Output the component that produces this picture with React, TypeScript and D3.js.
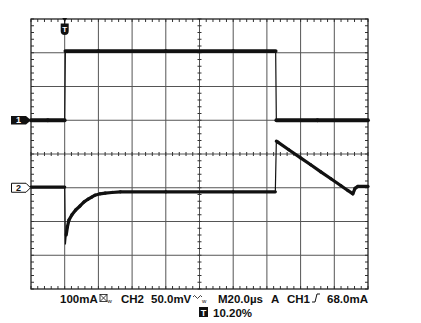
import React from "react";
import * as d3 from "d3";

// ---- data (time in µs, CH1 in mA, CH2 in mV) ----
const ch1Time = [-20, -10, 0, 0.4, 20, 60, 100, 125.2, 125.6, 150, 180];
const ch1Val = [0, 0, 0, 205, 205, 205, 205, 205, 0, 0, 0];

const ch2Time = [-20, 0, 0.4, 0.9, 1.6, 2.5, 4.3, 6.5, 9.1, 11.5, 13.8, 16, 18, 21, 24, 28, 33, 60, 100, 125.0, 125.6, 126.5, 133, 140, 146, 152, 158, 164, 168, 171, 172.3, 174, 180];
const ch2Val = [1, 1, -84, -70, -58, -48, -40, -33, -27, -21, -17, -14, -11, -9, -8, -7, -6, -6, -6, -6, 69, 67.5, 56.3, 44.3, 34, 23.6, 13.3, 3, -4, -9, -1, 2, 2];

const ch1Offset = 1; // divisions
const ch2Offset = -1;
const ch1Scale = 100; // mA/div
const ch2Scale = 50; // mV/div

const statusTexts = ["100mA", "CH2", "50.0mV", "M20.0µs", "A", "CH1", "68.0mA"];
const trigPercent = "10.20%";

const W = 421;
const H = 323;
const L = 31, R = 368, T = 19, B = 289;

type Seg = { x1: number; y1: number; x2: number; y2: number; fast: boolean };

export default function App() {
  const x = d3.scaleLinear().domain([-20, 180]).range([L, R]);
  const y = d3.scaleLinear().domain([-4, 4]).range([B, T]);

  const segs = (ts: number[], vs: number[], off: number, sc: number): Seg[] =>
    ts.slice(1).map((t, i) => ({
      x1: x(ts[i]),
      y1: y(off + vs[i] / sc),
      x2: x(t),
      y2: y(off + vs[i + 1] / sc),
      fast: t - ts[i] < 0.7,
    }));

  const s1 = segs(ch1Time, ch1Val, ch1Offset, ch1Scale);
  const s2 = segs(ch2Time, ch2Val, ch2Offset, ch2Scale);

  const line1 = d3
    .line<number>()
    .x((_, i) => x(ch1Time[i]))
    .y((v) => y(ch1Offset + v / ch1Scale));
  const line2 = d3
    .line<number>()
    .x((_, i) => x(ch2Time[i]))
    .y((v) => y(ch2Offset + v / ch2Scale));

  const vMajors = d3.range(-20, 181, 20);
  const hMajors = d3.range(-4, 5, 1);
  const minorsX = d3.range(-20, 180.01, 4);
  const minorsY = d3.range(-4, 4.001, 0.2);

  const gridColor = "#555";
  const tickColor = "#333";
  const font = "'Liberation Sans', Arial, sans-serif";

  const y1 = y(ch1Offset);
  const y2 = y(ch2Offset);
  const xt = x(0);

  const thick = (s: Seg[], w: number, key: string) =>
    s
      .filter((d) => !d.fast)
      .map((d, i) => (
        <line key={key + i} x1={d.x1} y1={d.y1} x2={d.x2} y2={d.y2} stroke="#111" strokeWidth={w} strokeLinecap="round" />
      ));

  return (
    <svg
      width={W}
      height={H}
      style={{ position: "absolute", left: 0, top: 0, background: "#fff" }}
    >
      <rect x={0} y={0} width={W} height={H} fill="#fff" />
      {/* grid */}
      {vMajors.slice(1, -1).map((t) => (
        <line key={"v" + t} x1={x(t)} x2={x(t)} y1={T} y2={B} stroke={gridColor} strokeWidth={1} />
      ))}
      {hMajors.slice(1, -1).map((d) => (
        <line key={"h" + d} x1={L} x2={R} y1={y(d)} y2={y(d)} stroke={gridColor} strokeWidth={1} />
      ))}
      {/* minor ticks on frame and centre lines */}
      {minorsX.map((t, i) => (
        <g key={"mx" + i} stroke={tickColor} strokeWidth={1}>
          <line x1={x(t)} x2={x(t)} y1={T} y2={T + 3} />
          <line x1={x(t)} x2={x(t)} y1={B} y2={B - 3} />
          <line x1={x(t)} x2={x(t)} y1={y(0) - 2} y2={y(0) + 2} />
        </g>
      ))}
      {minorsY.map((d, i) => (
        <g key={"my" + i} stroke={tickColor} strokeWidth={1}>
          <line x1={L} x2={L + 3} y1={y(d)} y2={y(d)} />
          <line x1={R} x2={R - 3} y1={y(d)} y2={y(d)} />
          <line x1={x(80) - 2} x2={x(80) + 2} y1={y(d)} y2={y(d)} />
        </g>
      ))}
      <rect x={L} y={T} width={R - L} height={B - T} fill="none" stroke="#222" strokeWidth={1.3} />

      {/* traces: thin path for fast edges, thick for the noisy settled parts */}
      <path d={line1(ch1Val) || ""} fill="none" stroke="#111" strokeWidth={1.2} />
      {thick(s1, 3.8, "a")}
      <path d={line2(ch2Val) || ""} fill="none" stroke="#111" strokeWidth={1.2} />
      {thick(s2, 3.2, "b")}

      {/* trigger marker on top */}
      <path d={`M${xt - 2.5},${T - 1} L${xt + 2.5},${T - 1} L${xt},${T + 2.5} Z`} fill="#111" />
      <line x1={xt} x2={xt} y1={T} y2={24} stroke="#111" strokeWidth={1} />
      <path d={`M${xt - 4},${23.5} h8 v7.5 a4,4 0 0 1 -8,0 Z`} fill="#111" />
      <text x={xt} y={32} textAnchor="middle" fill="#fff" fontFamily={font} fontWeight="bold" fontSize={8}>
        T
      </text>

      {/* channel markers */}
      <path d={`M11,${y1 - 4.3} H26 L31,${y1} L26,${y1 + 4.3} H11 Z`} fill="#111" />
      <text x={18.5} y={y1 + 3.2} textAnchor="middle" fill="#fff" fontFamily={font} fontWeight="bold" fontSize={9}>
        1
      </text>
      <path d={`M11.5,${y2 - 4.5} H26 L30.5,${y2} L26,${y2 + 4.5} H11.5 Z`} fill="#fff" stroke="#111" strokeWidth={1} />
      <text x={18.5} y={y2 + 3.2} textAnchor="middle" fill="#111" fontFamily={font} fontWeight="bold" fontSize={9}>
        2
      </text>

      {/* status line */}
      <g fontFamily={font} fontWeight="bold" fontSize={11.5} fill="#111">
        <text x={60} y={302.5}>{statusTexts[0]}</text>
        {/* bandwidth icon */}
        <rect x={100} y={294.5} width={7} height={7} fill="none" stroke="#111" strokeWidth={0.8} />
        <path d="M100,294.5 L107,301.5 M107,294.5 L100,301.5" stroke="#111" strokeWidth={0.8} />
        <text x={107.5} y={302.5} fontSize={6} fontWeight="normal">w</text>
        <text x={121} y={302.5}>{statusTexts[1]}</text>
        <text x={151} y={302.5}>{statusTexts[2]}</text>
        {/* wave icon */}
        <path d="M193,297 q1.5,-3 3,0 t3,0 t3,0" fill="none" stroke="#111" strokeWidth={0.8} />
        <text x={202} y={302.5} fontSize={6} fontWeight="normal">w</text>
        <text x={218} y={302.5}>{statusTexts[3]}</text>
        <text x={271} y={302.5}>{statusTexts[4]}</text>
        <text x={287} y={302.5}>{statusTexts[5]}</text>
        {/* trigger slope icon */}
        <path d="M312,302 h3 l2,-8 h3" fill="none" stroke="#111" strokeWidth={1} />
        <text x={368} y={302.5} textAnchor="end">{statusTexts[6]}</text>
        <rect x={199} y={307} width={9} height={10} fill="#111" />
        <text x={203.5} y={315.5} textAnchor="middle" fill="#fff" fontSize={9}>T</text>
        <text x={213} y={316.5}>{trigPercent}</text>
      </g>
    </svg>
  );
}
